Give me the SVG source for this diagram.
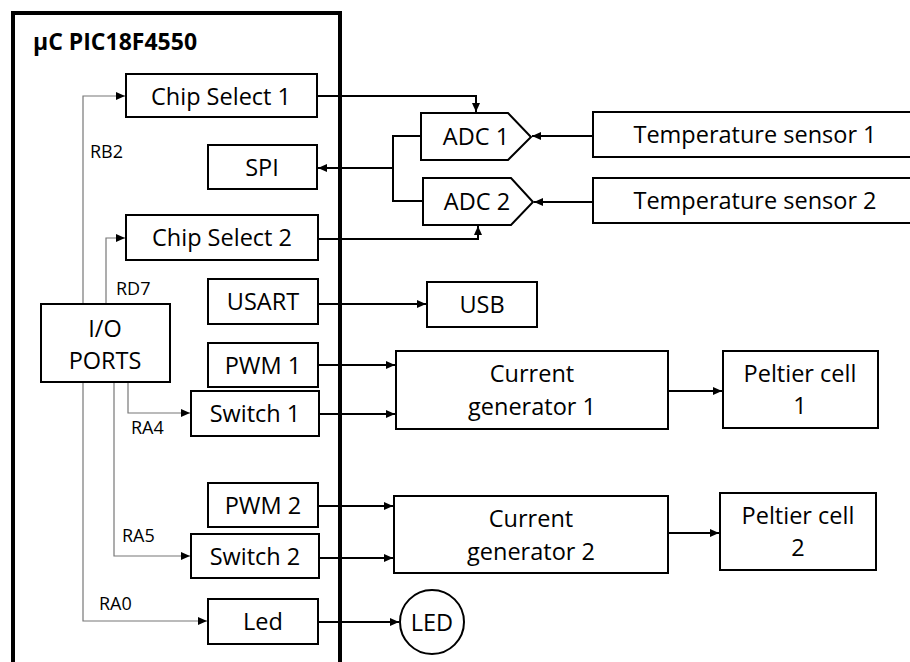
<svg xmlns="http://www.w3.org/2000/svg" width="910" height="662" viewBox="0 0 910 662">
<defs>
<style>
.bx{fill:#fff;stroke:#000;stroke-width:2}
.t{font-family:"Open Sans","Liberation Sans",sans-serif;font-size:23.5px;fill:#000;text-anchor:middle;dominant-baseline:central}
.p{font-family:"Open Sans","Liberation Sans",sans-serif;font-size:18px;fill:#000}
.c{fill:none;stroke:#000;stroke-width:2;marker-end:url(#a)}
.g{fill:none;stroke:#777;stroke-width:1.2;marker-end:url(#a)}
</style>
<marker id="a" markerUnits="userSpaceOnUse" markerWidth="10" markerHeight="10" refX="9" refY="4" orient="auto"><path d="M0,0 L9,4 L0,8 z" fill="#000"/></marker>
</defs>
<rect x="0" y="0" width="910" height="662" fill="#fff"/>
<g id="mcu">
<rect x="13" y="13" width="327" height="700" fill="none" stroke="#000" stroke-width="4"/>
<text x="33" y="50" font-family="'Open Sans','Liberation Sans',sans-serif" font-size="23" font-weight="bold">µC PIC18F4550</text>
</g>
<g id="connectors">
<path class="c" d="M317,96 H476 V112"/>
<path class="c" d="M318,239 H478 V226"/>
<path fill="none" stroke="#000" stroke-width="2" d="M421,136 H393 V201 H423"/>
<path class="c" d="M393,168 H318"/>
<path class="c" d="M593,136 H532"/>
<path class="c" d="M593,202 H534"/>
<path class="c" d="M318,304 H426"/>
<path class="c" d="M318,365 H395"/>
<path class="c" d="M319,414 H395"/>
<path class="c" d="M318,506 H393"/>
<path class="c" d="M319,558 H393"/>
<path class="c" d="M318,622 H399"/>
<path class="c" d="M668,391 H722"/>
<path class="c" d="M668,533 H719"/>
<path class="g" d="M83,304 V96 H125"/>
<path class="g" d="M106,304 V238 H125"/>
<path class="g" d="M128,382 V413 H190"/>
<path class="g" d="M114,382 V556 H190"/>
<path class="g" d="M83,382 V621 H207"/>
<text class="p" x="90" y="158">RB2</text>
<text class="p" x="116" y="295">RD7</text>
<text class="p" x="131" y="434">RA4</text>
<text class="p" x="122" y="542">RA5</text>
<text class="p" x="99" y="610">RA0</text>
</g>
<g id="cs1"><rect class="bx" x="126" y="74" width="191" height="43"/><text class="t" x="221" y="96">Chip Select 1</text></g>
<g id="spi"><rect class="bx" x="208" y="145" width="109" height="44"/><text class="t" x="262" y="167">SPI</text></g>
<g id="cs2"><rect class="bx" x="126" y="215" width="192" height="45"/><text class="t" x="222" y="237">Chip Select 2</text></g>
<g id="usart"><rect class="bx" x="208" y="279" width="110" height="45"/><text class="t" x="263" y="301">USART</text></g>
<g id="io"><rect class="bx" x="41" y="304" width="129" height="78"/><text class="t" x="105" y="328">I/O</text><text class="t" x="105" y="360">PORTS</text></g>
<g id="pwm1"><rect class="bx" x="208" y="343" width="110" height="44"/><text class="t" x="263" y="365">PWM 1</text></g>
<g id="sw1"><rect class="bx" x="191" y="391" width="128" height="45"/><text class="t" x="255" y="413">Switch 1</text></g>
<g id="pwm2"><rect class="bx" x="208" y="483" width="110" height="44"/><text class="t" x="263" y="505">PWM 2</text></g>
<g id="sw2"><rect class="bx" x="191" y="534" width="128" height="44"/><text class="t" x="255" y="556">Switch 2</text></g>
<g id="led"><rect class="bx" x="208" y="599" width="110" height="45"/><text class="t" x="263" y="621">Led</text></g>
<g id="adc1"><path class="bx" d="M421,113 H508 L531,137 L508,160 H421 Z"/><text class="t" x="476" y="136">ADC 1</text></g>
<g id="adc2"><path class="bx" d="M423,178 H511 L533,202 L511,225 H423 Z"/><text class="t" x="477" y="201">ADC 2</text></g>
<g id="ts1"><rect class="bx" x="593" y="112" width="330" height="45"/><text class="t" x="755" y="134">Temperature sensor 1</text></g>
<g id="ts2"><rect class="bx" x="593" y="178" width="330" height="45"/><text class="t" x="755" y="200">Temperature sensor 2</text></g>
<g id="usb"><rect class="bx" x="427" y="282" width="110" height="45"/><text class="t" x="482" y="304">USB</text></g>
<g id="cg1"><rect class="bx" x="396" y="351" width="272" height="78"/><text class="t" x="532" y="373">Current</text><text class="t" x="532" y="406">generator 1</text></g>
<g id="cg2"><rect class="bx" x="394" y="496" width="274" height="77"/><text class="t" x="531" y="518">Current</text><text class="t" x="531" y="551">generator 2</text></g>
<g id="p1"><rect class="bx" x="723" y="351" width="155" height="77"/><text class="t" x="800" y="373">Peltier cell</text><text class="t" x="800" y="405">1</text></g>
<g id="p2"><rect class="bx" x="720" y="493" width="156" height="77"/><text class="t" x="798" y="515">Peltier cell</text><text class="t" x="798" y="547">2</text></g>
<g id="ledc"><circle cx="432" cy="622" r="32" fill="#fff" stroke="#000" stroke-width="2"/><text class="t" x="432" y="622">LED</text></g>
</svg>
